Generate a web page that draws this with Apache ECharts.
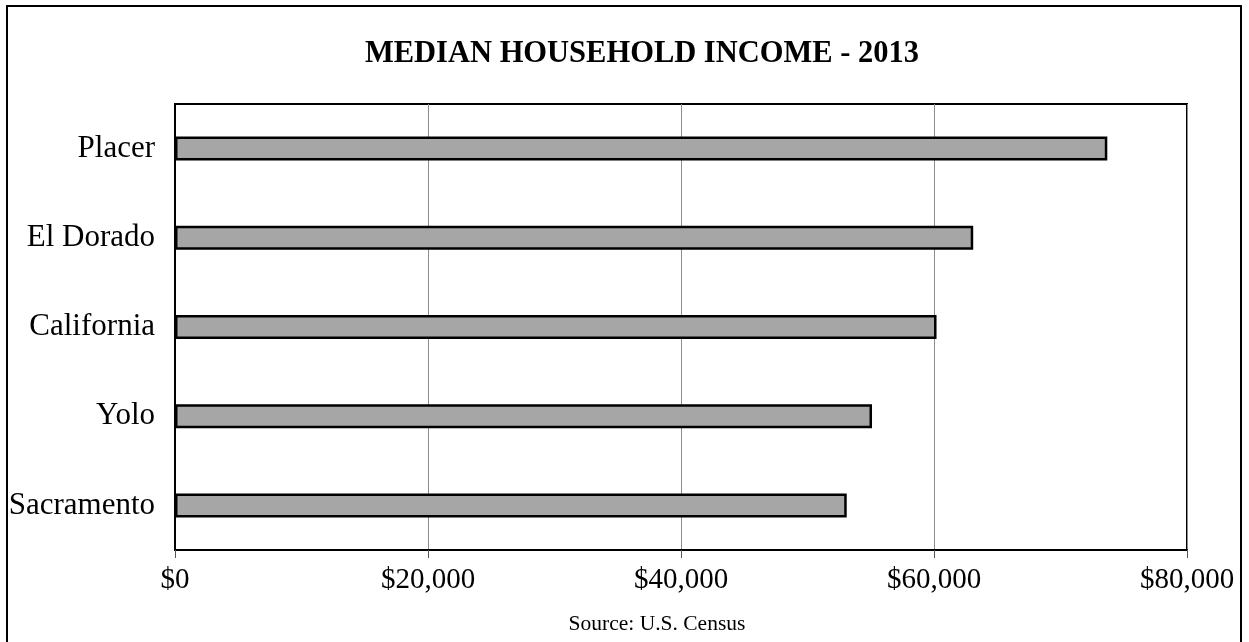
<!DOCTYPE html>
<html>
<head>
<meta charset="utf-8">
<script src="https://cdn.jsdelivr.net/npm/echarts@6/dist/echarts.min.js"></script>
<style>
  html, body { margin: 0; padding: 0; background: #ffffff; }
  #chart { width: 1249px; height: 642px; }
</style>
</head>
<body>
<div id="chart"></div>
<script>
// Median household income by area, 2013 (top to bottom)
const areas = ['Placer', 'El Dorado', 'California', 'Yolo', 'Sacramento'];
const incomes = [73700, 63100, 60200, 55100, 53100];
const xTicks = [0, 20000, 40000, 60000, 80000];

const serif = '"Liberation Serif", "Times New Roman", serif';
const chart = echarts.init(document.getElementById('chart'), null, { renderer: 'canvas' });

chart.setOption({
  backgroundColor: '#ffffff',
  animation: false,
  title: [
    {
      text: 'MEDIAN HOUSEHOLD INCOME - 2013',
      left: 637, top: 34, textAlign: 'center',
      textStyle: { fontFamily: serif, fontSize: 30.5, fontWeight: 'bold', color: '#000' }
    },
    {
      text: 'Source: U.S. Census',
      left: 652, top: 608, textAlign: 'center',
      textStyle: { fontFamily: serif, fontSize: 21.5, fontWeight: 'normal', color: '#000' }
    }
  ],
  graphic: [{
    type: 'rect',
    shape: { x: 7, y: 6, width: 1234, height: 640 },
    style: { fill: 'none', stroke: '#000', lineWidth: 2 },
    silent: true
  }],
  grid: {
    left: 175, top: 104, right: 62, bottom: 92,
    show: true, borderColor: '#000', borderWidth: 2, backgroundColor: 'transparent'
  },
  xAxis: {
    type: 'value',
    min: xTicks[0], max: xTicks[xTicks.length - 1], interval: 20000,
    axisLine: { show: true, lineStyle: { color: '#000', width: 2 } },
    axisTick: { show: true, length: 8, lineStyle: { color: '#555', width: 1 } },
    splitLine: { show: true, lineStyle: { color: '#8c8c8c', width: 1 } },
    axisLabel: {
      margin: 16,
      fontFamily: serif, fontSize: 29, color: '#000',
      formatter: v => '$' + v.toLocaleString('en-US')
    }
  },
  yAxis: {
    type: 'category',
    inverse: true,
    data: areas,
    axisLine: { show: true, lineStyle: { color: '#000', width: 2 } },
    axisTick: { show: false },
    axisLabel: { margin: 20, fontFamily: serif, fontSize: 31, color: '#000' }
  },
  series: [{
    type: 'bar',
    data: incomes,
    barWidth: 24,
    itemStyle: { color: '#a6a6a6', borderColor: '#000', borderWidth: 2.5 }
  }]
});
</script>
</body>
</html>
